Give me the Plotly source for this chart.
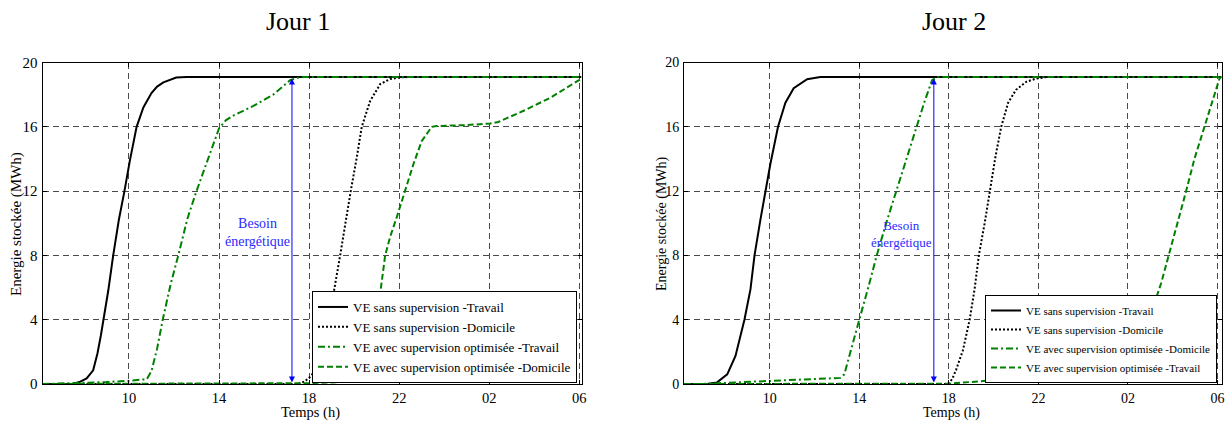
import plotly.graph_objects as go

# ---------------- data (hours; 26 = 02h, 30 = 06h next day) ----------------
tick_vals_x = [10, 14, 18, 22, 26, 30]
tick_text_x = ["10", "14", "18", "22", "02", "06"]
tick_vals_y = [0, 4, 8, 12, 16, 20]

legend_names_j1 = ["VE sans supervision -Travail", "VE sans supervision -Domicile",
                   "VE avec supervision optimisée -Travail", "VE avec supervision optimisée -Domicile"]
legend_names_j2 = ["VE sans supervision -Travail", "VE sans supervision -Domicile",
                   "VE avec supervision optimisée -Domicile", "VE avec supervision optimisée -Travail"]

# Jour 1
j1_t_sans_travail = [6.16, 7.0, 7.53, 7.8, 8.12, 8.41, 8.6, 8.75, 8.9, 9.08, 9.3, 9.55, 9.8, 10.04,
                     10.34, 10.64, 11.0, 11.25, 11.53, 12.1, 12.56, 30.1]
j1_e_sans_travail = [0, 0, 0.02, 0.12, 0.35, 0.85, 1.9, 3.0, 4.2, 5.8, 8.0, 10.2, 12.0, 13.9,
                     16.0, 17.2, 18.1, 18.5, 18.76, 19.07, 19.1, 19.1]

j1_t_sans_domicile = [6.16, 17.5, 17.8, 18.1, 18.35, 18.56, 18.86, 19.05, 19.38, 19.6, 19.85, 20.12,
                      20.34, 20.71, 21.16, 21.6, 22.04, 22.5, 30.1]
j1_e_sans_domicile = [0, 0, 0.15, 0.5, 1.1, 2.0, 4.0, 5.33, 8.0, 10.0, 12.0, 14.1,
                      16.0, 17.6, 18.66, 18.97, 19.07, 19.1, 19.1]

j1_t_opt_travail = [6.16, 8.0, 9.0, 10.0, 10.5, 10.79, 11.0, 11.25, 11.5, 11.85, 12.19, 12.6, 13.0,
                    13.5, 14.0, 14.3, 14.64, 15.53, 16.41, 17.16, 17.6, 30.1]
j1_e_opt_travail = [0, 0.05, 0.12, 0.2, 0.25, 0.3, 0.8, 2.2, 4.0, 6.2, 8.0, 10.3, 12.0,
                    14.0, 15.9, 16.4, 16.7, 17.3, 18.0, 18.9, 19.1, 19.1]

j1_t_opt_domicile = [6.16, 18.0, 20.0, 20.5, 20.7, 20.9, 21.13, 21.38, 21.6, 21.9, 22.27, 22.64, 23.0,
                     23.45, 23.67, 24.86, 26.04, 26.4, 27.53, 28.71, 30.1]
j1_e_opt_domicile = [0, 0.05, 0.15, 0.4, 1.3, 3.1, 5.33, 8.0, 9.15, 10.4, 12.0, 13.7, 15.1,
                     16.0, 16.05, 16.1, 16.2, 16.3, 17.0, 17.8, 19.0]

# Jour 2
j2_t_sans_travail = [6.17, 7.2, 7.65, 8.1, 8.47, 8.69, 8.87, 9.14, 9.32, 9.58, 9.81, 10.03, 10.37,
                     10.7, 11.07, 11.67, 12.26, 30.18]
j2_e_sans_travail = [0, 0, 0.1, 0.6, 1.75, 3.0, 4.0, 5.9, 8.0, 10.2, 12.0, 13.7, 16.0,
                     17.5, 18.4, 18.96, 19.1, 19.1]

j2_t_sans_domicile = [6.17, 17.96, 18.15, 18.33, 18.63, 18.93, 19.15, 19.34, 19.6, 19.82, 20.09, 20.34,
                      20.65, 21.0, 21.46, 21.9, 22.4, 30.18]
j2_e_sans_domicile = [0, 0, 0.3, 0.9, 2.1, 4.0, 5.9, 8.0, 10.0, 12.0, 14.2, 16.0,
                      17.5, 18.3, 18.8, 19.0, 19.1, 19.1]

j2_t_opt_domicile = [6.17, 7.0, 8.5, 10.0, 11.5, 13.15, 13.33, 13.5, 13.75, 14.0, 14.4, 14.78, 15.2,
                     15.65, 16.1, 16.58, 16.9, 17.25, 17.5, 30.18]
j2_e_opt_domicile = [0, 0.0, 0.1, 0.18, 0.27, 0.38, 0.6, 1.5, 2.8, 4.0, 6.0, 8.0, 10.0,
                     12.0, 14.0, 16.0, 17.5, 18.9, 19.1, 19.1]

j2_t_opt_travail = [6.17, 18.0, 19.67, 22.0, 24.0, 25.9, 26.2, 26.5, 26.9, 27.19, 27.49, 27.83, 28.23,
                    28.6, 28.97, 29.42, 29.79, 30.09, 30.18]
j2_e_opt_travail = [0, 0.02, 0.2, 0.25, 0.28, 0.3, 0.7, 1.8, 3.6, 5.06, 6.3, 8.04, 10.0,
                    12.0, 14.0, 16.0, 17.7, 19.0, 19.1]

# energy-need arrows (time, bottom, top) and label positions
j1_arrow = (17.24, 0.0, 19.0)
j2_arrow = (17.33, 0.0, 19.0)
j1_label = (15.69, 9.45)
j2_label = (15.87, 9.35)

# ---------------- figure ----------------
W, H = 1229, 421
FONT = "Liberation Serif"
GREEN = "#008000"


def px(x):
    return x / W


def py(y):
    return 1 - y / H


fig = go.Figure()

styles = [dict(color="black", width=2, dash="solid"),
          dict(color="black", width=2, dash="2px,2px"),
          dict(color=GREEN, width=2, dash="7px,3px,2px,3px"),
          dict(color=GREEN, width=2, dash="6px,3px")]

j1_series = [(j1_t_sans_travail, j1_e_sans_travail), (j1_t_sans_domicile, j1_e_sans_domicile),
             (j1_t_opt_travail, j1_e_opt_travail), (j1_t_opt_domicile, j1_e_opt_domicile)]
j2_series = [(j2_t_sans_travail, j2_e_sans_travail), (j2_t_sans_domicile, j2_e_sans_domicile),
             (j2_t_opt_domicile, j2_e_opt_domicile), (j2_t_opt_travail, j2_e_opt_travail)]

for (t, e), name, st in zip(j1_series, legend_names_j1, styles):
    fig.add_trace(go.Scatter(x=t, y=e, mode="lines", name=name, line=st,
                             xaxis="x", yaxis="y", legend="legend"))
for (t, e), name, st in zip(j2_series, legend_names_j2, styles):
    fig.add_trace(go.Scatter(x=t, y=e, mode="lines", name=name, line=st,
                             xaxis="x2", yaxis="y2", legend="legend2"))

axis_common = dict(showline=True, linecolor="black", linewidth=1, mirror="ticks",
                   ticks="inside", ticklen=4, tickcolor="black", tickwidth=1,
                   showgrid=True, gridcolor="#4a4a4a", gridwidth=1, griddash="6px,4px",
                   zeroline=False, automargin=False)

fig.update_layout(
    width=W, height=H,
    margin=dict(l=0, r=0, t=0, b=0),
    paper_bgcolor="white", plot_bgcolor="white",
    font=dict(family=FONT, color="black"),
    xaxis=dict(domain=[px(42.5), px(581.5)], range=[6.16, 30.1], anchor="y",
               tickvals=tick_vals_x, ticktext=tick_text_x,
               tickfont=dict(size=14.5, family=FONT), ticklabelstandoff=1, **axis_common),
    yaxis=dict(domain=[py(384), py(62.5)], range=[0, 20], anchor="x",
               tickvals=tick_vals_y, tickfont=dict(size=15, family=FONT),
               ticklabelstandoff=1, **axis_common),
    xaxis2=dict(domain=[px(684), px(1221.5)], range=[6.17, 30.18], anchor="y2",
                tickvals=tick_vals_x, ticktext=tick_text_x,
                tickfont=dict(size=14, family=FONT), ticklabelstandoff=1, **axis_common),
    yaxis2=dict(domain=[py(384), py(62.5)], range=[0, 20], anchor="x2",
                tickvals=tick_vals_y, tickfont=dict(size=14, family=FONT),
                ticklabelstandoff=1, **axis_common),
    legend=dict(x=px(577), y=py(383), xanchor="right", yanchor="bottom",
                bgcolor="white", bordercolor="black", borderwidth=1,
                font=dict(size=13, family=FONT), itemwidth=30, tracegroupgap=0),
    legend2=dict(x=px(1217), y=py(383), xanchor="right", yanchor="bottom",
                 bgcolor="white", bordercolor="black", borderwidth=1,
                 font=dict(size=11, family=FONT), itemwidth=30, tracegroupgap=0),
    showlegend=True,
)

annotations = [
    dict(text="Jour 1", x=px(298), y=py(22), xref="paper", yref="paper",
         showarrow=False, font=dict(size=26, family=FONT), xanchor="center", yanchor="middle"),
    dict(text="Jour 2", x=px(954), y=py(22), xref="paper", yref="paper",
         showarrow=False, font=dict(size=26, family=FONT), xanchor="center", yanchor="middle"),
    dict(text="Energie stockée (MWh)", x=px(16), y=py(224), xref="paper", yref="paper",
         showarrow=False, textangle=-90, font=dict(size=15, family=FONT),
         xanchor="center", yanchor="middle"),
    dict(text="Energie stockée (MWh)", x=px(662), y=py(224), xref="paper", yref="paper",
         showarrow=False, textangle=-90, font=dict(size=14, family=FONT),
         xanchor="center", yanchor="middle"),
    dict(text="Temps (h)", x=px(310), y=py(412.5), xref="paper", yref="paper",
         showarrow=False, font=dict(size=14.5, family=FONT), xanchor="center", yanchor="middle"),
    dict(text="Temps (h)", x=px(951), y=py(412.5), xref="paper", yref="paper",
         showarrow=False, font=dict(size=14, family=FONT), xanchor="center", yanchor="middle"),
    dict(text="Besoin<br>énergétique", x=j1_label[0], y=j1_label[1], xref="x", yref="y",
         showarrow=False, font=dict(size=14, family=FONT, color="#2a2aff")),
    dict(text="Besoin<br>énergétique", x=j2_label[0], y=j2_label[1], xref="x2", yref="y2",
         showarrow=False, font=dict(size=13, family=FONT, color="#2a2aff")),
    dict(text="", x=j1_arrow[0], y=j1_arrow[2], ax=j1_arrow[0], ay=j1_arrow[1],
         xref="x", yref="y", axref="x", ayref="y", showarrow=True,
         arrowside="end+start", arrowhead=2, startarrowhead=2, arrowsize=1.2,
         startarrowsize=1.2, arrowwidth=1, arrowcolor="blue", standoff=0, startstandoff=0),
    dict(text="", x=j2_arrow[0], y=j2_arrow[2], ax=j2_arrow[0], ay=j2_arrow[1],
         xref="x2", yref="y2", axref="x2", ayref="y2", showarrow=True,
         arrowside="end+start", arrowhead=2, startarrowhead=2, arrowsize=1.2,
         startarrowsize=1.2, arrowwidth=1, arrowcolor="blue", standoff=0, startstandoff=0),
]
fig.update_layout(annotations=annotations)

fig.write_html("out.html", config={"displayModeBar": False},
               post_script="document.body.style.margin='0';document.body.style.overflow='hidden';")
